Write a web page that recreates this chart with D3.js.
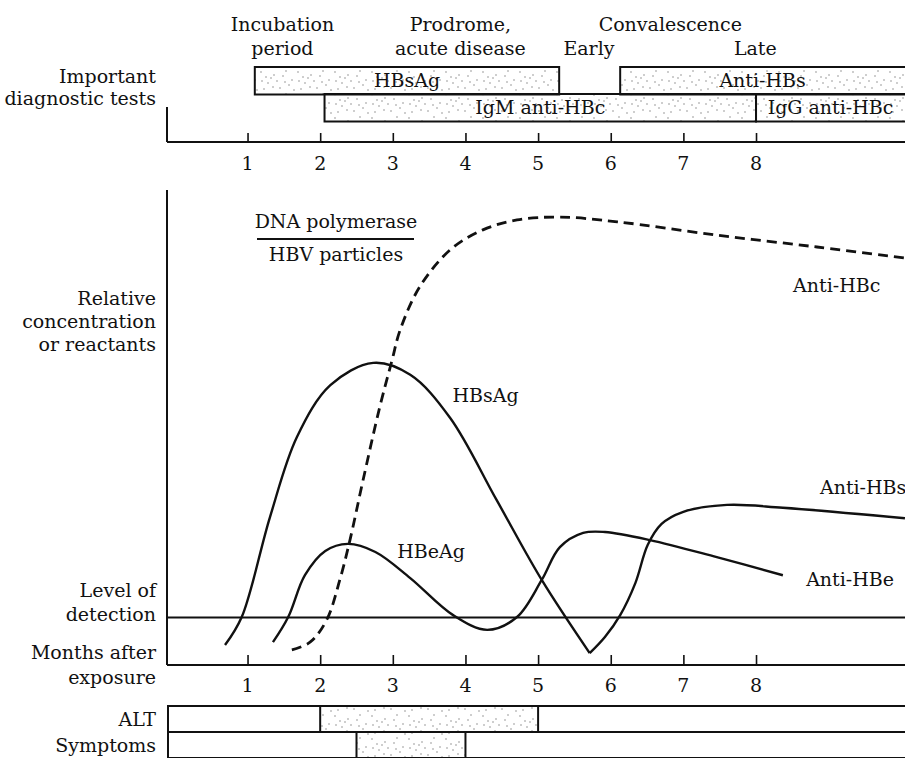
<!DOCTYPE html>
<html><head><meta charset="utf-8">
<script src="https://cdn.jsdelivr.net/npm/d3@7"></script>
<style>
html,body{margin:0;padding:0;background:#fff;}
svg{display:block;}
text{font-family:"DejaVu Serif",serif;font-size:19px;fill:#111;}
</style></head>
<body>
<svg id="chart" width="905" height="758"></svg>
<script>
// ---- data (months after exposure, relative concentration 0-100) ----
const monthTicks = [1, 2, 3, 4, 5, 6, 7, 8];
const detectionLevel = 10;

const hbsAg = [[0.69,4.2],[0.92,10.1],[1.31,31.2],[1.68,48.0],[2.14,58.9],[2.73,63.6],[3.24,61.1],[3.79,52.0],[4.43,34.7],[5.05,17.9],[5.71,2.5]];
const antiHBs = [[5.71,2.5],[5.92,5.9],[6.13,10.5],[6.34,17.3],[6.51,25.3],[6.70,29.7],[6.99,32.2],[7.60,33.7],[8.37,33.1],[10.05,30.9]];
const hbeAg = [[1.35,4.8],[1.56,10.1],[1.79,18.9],[2.07,24.0],[2.38,25.5],[2.76,23.8],[3.24,18.3],[3.83,10.5],[4.30,7.4]];
const antiHBe = [[4.30,7.4],[4.71,10.1],[5.05,17.9],[5.30,24.8],[5.62,27.8],[5.92,28.0],[6.54,26.3],[7.46,22.7],[8.37,18.9]];
const antiHBc = [[1.61,3.2],[1.86,4.8],[2.09,9.5],[2.27,17.9],[2.41,26.3],[2.59,38.9],[2.82,54.3],[2.99,64.2],[3.10,70.5],[3.37,79.6],[3.79,87.4],[4.24,91.6],[4.71,93.7],[5.30,94.3],[6.09,93.3],[7.46,90.5],[8.84,88.0],[10.05,85.7]];

const testNames  = ["HBsAg", "Anti-HBs", "IgM anti-HBc", "IgG anti-HBc"];
const testStart  = [1.10, 6.13, 2.06, 8.00];
const testEnd    = [5.29, 10.2, 8.00, 10.2];
const testRow    = [0, 0, 1, 1];

const phaseLabels = [["Incubation","period"],["Prodrome,","acute disease"],["Convalescence"],["Early"],["Late"]];
const phaseMonth  = [1.48, 3.93, 6.82, 5.70, 7.99];

const clinicalRows = ["ALT", "Symptoms"];
const clinicalStart = [2.0, 2.5];
const clinicalEnd   = [5.0, 4.0];

const curveLabels = ["HBsAg","HBeAg","Anti-HBc","Anti-HBe","Anti-HBs"];
const curveLabelAt = [[3.82,56.8],[3.06,24.0],[8.51,80.0],[8.69,18.1],[8.88,37.5]];

// ---- scales ----
const x = d3.scaleLinear().domain([0, 10]).range([174.9, 901.3]);
const y = d3.scaleLinear().domain([0, 100]).range([665, 190]);
const svg = d3.select("#chart");
const ink = "#111";

// stipple pattern
const defs = svg.append("defs");
const pat = defs.append("pattern").attr("id","stip").attr("patternUnits","userSpaceOnUse").attr("width",37).attr("height",23);
const dots = [[2,3],[9,14],[15,6],[21,19],[27,2],[33,11],[5,20],[12,9],[30,16],[18,12],[24,7],[7,8],[35,21],[14,18],[26,13],[3,12]];
dots.forEach(d => pat.append("circle").attr("cx",d[0]).attr("cy",d[1]).attr("r",0.7).attr("fill","#777"));

const left = 167, right = 905;

// ---- top panel ----
const rowTop = [67, 94], rowH = 27.5;
testNames.forEach((n,i) => {
  const x0 = x(testStart[i]), x1 = x(testEnd[i]);
  svg.append("rect").attr("x",x0).attr("y",rowTop[testRow[i]]).attr("width",x1-x0).attr("height",rowH)
    .attr("fill","url(#stip)").attr("stroke",ink).attr("stroke-width",2);
  const cx = (x0 + Math.min(x1, right)) / 2;
  svg.append("text").attr("x",cx).attr("y",rowTop[testRow[i]]+rowH/2).attr("dy","0.35em")
    .attr("text-anchor","middle").text(n);
});
const topAxisY = 142;
svg.append("line").attr("x1",left).attr("x2",right).attr("y1",topAxisY).attr("y2",topAxisY).attr("stroke",ink).attr("stroke-width",2);
svg.append("line").attr("x1",left).attr("x2",left).attr("y1",107).attr("y2",topAxisY).attr("stroke",ink).attr("stroke-width",2);
const topAxis = d3.axisTop(x).tickValues(monthTicks).tickSize(9).tickFormat("");
const gt = svg.append("g").attr("transform",`translate(0,${topAxisY})`).call(topAxis);
gt.select(".domain").remove();
gt.selectAll("line").attr("stroke",ink).attr("stroke-width",1.6);
monthTicks.forEach(m => svg.append("text").attr("x",x(m)).attr("y",163).attr("dy","0.35em").attr("text-anchor","middle").text(m));

phaseLabels.forEach((lines,i) => {
  lines.forEach((t,j) => {
    const yy = (i===3||i===4) ? 48 : 24 + j*24;
    svg.append("text").attr("x",x(phaseMonth[i])).attr("y",yy).attr("dy","0.35em").attr("text-anchor","middle").text(t);
  });
});
[["Important",76],["diagnostic tests",98]].forEach(d =>
  svg.append("text").attr("x",156).attr("y",d[1]).attr("dy","0.35em").attr("text-anchor","end").text(d[0]));

// ---- main panel ----
svg.append("line").attr("x1",left).attr("x2",left).attr("y1",190).attr("y2",665).attr("stroke",ink).attr("stroke-width",2);
svg.append("line").attr("x1",left).attr("x2",right).attr("y1",665).attr("y2",665).attr("stroke",ink).attr("stroke-width",2);
svg.append("line").attr("x1",left).attr("x2",right).attr("y1",y(detectionLevel)).attr("y2",y(detectionLevel)).attr("stroke",ink).attr("stroke-width",1.8);
const botAxis = d3.axisTop(x).tickValues(monthTicks).tickSize(10).tickFormat("");
const gb = svg.append("g").attr("transform","translate(0,665)").call(botAxis);
gb.select(".domain").remove();
gb.selectAll("line").attr("stroke",ink).attr("stroke-width",1.6);
monthTicks.forEach(m => svg.append("text").attr("x",x(m)).attr("y",685).attr("dy","0.35em").attr("text-anchor","middle").text(m));

const line = d3.line().x(d=>x(d[0])).y(d=>y(d[1])).curve(d3.curveCatmullRom.alpha(0.5));
const solid = (data) => svg.append("path").attr("d",line(data)).attr("fill","none").attr("stroke",ink).attr("stroke-width",2.4).attr("stroke-linejoin","round");
solid(hbsAg);
solid(antiHBs);
solid(hbeAg.concat(antiHBe.slice(1)));
svg.append("path").attr("d",line(antiHBc)).attr("fill","none").attr("stroke",ink).attr("stroke-width",2.8).attr("stroke-dasharray","10,6");

curveLabels.forEach((t,i) => svg.append("text").attr("x",x(curveLabelAt[i][0])).attr("y",y(curveLabelAt[i][1])).attr("dy","0.35em").text(t));

// DNA polymerase / HBV particles
svg.append("text").attr("x",336).attr("y",221).attr("dy","0.35em").attr("text-anchor","middle").text("DNA polymerase");
svg.append("line").attr("x1",257).attr("x2",414).attr("y1",239).attr("y2",239).attr("stroke",ink).attr("stroke-width",2);
svg.append("text").attr("x",336).attr("y",254).attr("dy","0.35em").attr("text-anchor","middle").text("HBV particles");

[["Relative",298],["concentration",321],["or reactants",344],["Level of",590],["detection",614],["Months after",652],["exposure",677]].forEach(d =>
  svg.append("text").attr("x",156).attr("y",d[1]).attr("dy","0.35em").attr("text-anchor","end").text(d[0]));

// ---- clinical rows ----
const cTop = [706, 732], cH = 26;
clinicalRows.forEach((n,i) => {
  svg.append("rect").attr("x",168).attr("y",cTop[i]).attr("width",right+5-168).attr("height",cH).attr("fill","none").attr("stroke",ink).attr("stroke-width",2);
  svg.append("rect").attr("x",x(clinicalStart[i])).attr("y",cTop[i]).attr("width",x(clinicalEnd[i])-x(clinicalStart[i])).attr("height",cH)
    .attr("fill","url(#stip)").attr("stroke",ink).attr("stroke-width",2);
  svg.append("text").attr("x",156).attr("y",cTop[i]+cH/2).attr("dy","0.35em").attr("text-anchor","end").text(n);
});
</script>
</body></html>
